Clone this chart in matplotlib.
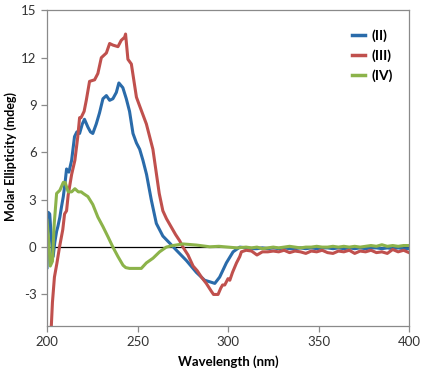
import matplotlib
matplotlib.use('Agg')
import matplotlib.pyplot as plt

plt.rcParams['font.family'] = ['Lato', 'DejaVu Sans']
plt.rcParams['axes.unicode_minus'] = False

# ---------------- data ----------------
# (II) blue
wl_II = [200, 200.7, 201.5, 202.5, 203.4, 204.3, 205.3, 206, 207.1, 208, 209, 209.9,
         210.8, 212.1, 213.6, 215.2, 216.5, 218, 219.5, 220.7, 222.6, 224, 225.3, 227.2,
         229, 230.9, 232.8, 234.6, 236.4, 238.3, 239.7, 241.9, 243.8, 245.6, 247.5,
         249.4, 251.2, 253, 255, 257.6, 260.4, 264, 267.8, 271.5, 277, 282.5, 287.1,
         290, 292.7, 295.4, 299.1, 302.8, 306.5]
cd_II = [-1.3, 2.2, 2.1, 0.4, -0.6, 0.3, 1.0, 1.3, 1.9, 2.55, 3.2, 4.0,
         4.95, 4.75, 5.5, 7.0, 7.3, 7.2, 7.8, 8.1, 7.6, 7.3, 7.2, 7.8,
         8.5, 9.4, 9.6, 9.3, 9.4, 9.8, 10.4, 10.1, 9.4, 8.6, 7.2,
         6.6, 6.2, 5.5, 4.6, 3.0, 1.5, 0.7, 0.25, -0.2, -0.85, -1.6, -2.1,
         -2.2, -2.3, -1.9, -1.0, -0.3, 0.0]

# (III) red
wl_III = [202.3, 203, 204.1, 205.5, 206.9, 208.7, 209.7, 210.8, 211.7, 213.6, 215.4,
          217, 218, 218.8, 220.5, 221.7, 223.5, 226.3, 228.1, 230, 232.8, 234.6, 236.4,
          239.2, 241, 242.9, 243.4, 244.7, 246.6, 249.4, 251, 254.9, 258.5, 260, 262,
          264, 266, 268, 271, 273.3, 275.1, 277.9, 280.7, 283, 285.3, 288, 290.8, 292,
          294.5, 296, 297, 298.2, 300, 301, 302.5, 304.7, 306.5, 307.4]
cd_III = [-5.2, -3.5, -1.9, -1.0, 0.0, 1.1, 2.1, 2.3, 3.3, 4.6, 5.5,
          7.0, 8.2, 8.2, 8.6, 9.3, 10.5, 10.6, 11.0, 12.0, 12.3, 12.9, 12.8,
          12.7, 13.1, 13.3, 13.5, 11.9, 11.6, 9.5, 9.0, 7.8, 6.2, 5.0, 3.4,
          2.3, 1.8, 1.4, 0.8, 0.4, 0.0, -0.5, -1.2, -1.5, -1.9, -2.3, -2.8, -3.0,
          -3.0, -2.6, -2.4, -2.4, -2.0, -2.1, -1.6, -1.0, -0.6, -0.3]

# (IV) green
wl_IV = [200, 201, 201.8, 203, 204, 205.3, 207.1, 209, 210, 211.7, 213.6, 215.4,
         217.3, 218.9, 220, 222.6, 225.3, 228.1, 230.9, 233.7, 236.4, 239.2, 242,
         243.5, 245.6, 249.4, 252.1, 254.9, 258.6, 262.2, 265.9, 269.6, 275.1, 282.5,
         289.9, 295, 300, 305]
cd_IV = [1.7, 0.3, -1.2, -0.9, 1.5, 3.4, 3.6, 4.1, 4.1, 3.5, 3.5, 3.7,
         3.5, 3.5, 3.4, 3.2, 2.7, 1.9, 1.3, 0.65, 0.0, -0.6, -1.15,
         -1.3, -1.35, -1.35, -1.35, -1.0, -0.7, -0.3, 0.0, 0.1, 0.2, 0.13,
         0.02, 0.05, 0.0, -0.05]

# flat noisy tail, shared wavelengths
tail_wl = [310, 313, 316, 319, 322, 325, 328, 331, 334, 337, 340, 343, 346, 349, 352,
           355, 358, 361, 364, 367, 370, 373, 376, 379, 382, 385, 388, 391, 394, 397, 400]
tail_II = [-0.05, -0.1, -0.1, -0.05, -0.1, -0.05, -0.1, -0.05, -0.1, -0.1, -0.05,
           -0.1, -0.05, -0.1, -0.05, -0.05, -0.1, -0.05, -0.1, -0.05, -0.1, -0.05,
           -0.1, -0.05, -0.05, -0.1, -0.05, -0.1, -0.05, -0.1, -0.1]
tail_III = [-0.2, -0.25, -0.5, -0.3, -0.3, -0.25, -0.3, -0.2, -0.35, -0.25, -0.3,
            -0.4, -0.25, -0.3, -0.2, -0.35, -0.4, -0.25, -0.3, -0.2, -0.4, -0.25,
            -0.3, -0.2, -0.35, -0.3, -0.4, -0.15, -0.3, -0.2, -0.35]
tail_IV = [0.0, -0.05, 0.0, -0.1, -0.05, 0.0, -0.05, 0.0, 0.05, 0.0, -0.05,
           0.0, 0.0, 0.05, 0.0, 0.0, 0.05, 0.0, 0.05, 0.0, 0.05, 0.0,
           0.05, 0.1, 0.05, 0.15, 0.05, 0.1, 0.05, 0.1, 0.1]

labels = ['(II)', '(III)', '(IV)']
colors = ['#2a6baa', '#c0504d', '#8cb34a']

series = [(wl_II + tail_wl, cd_II + tail_II),
          (wl_III + tail_wl, cd_III + tail_III),
          (wl_IV + tail_wl, cd_IV + tail_IV)]

# ---------------- figure ----------------
fig = plt.figure(figsize=(4.22, 3.74), dpi=100)
ax = fig.add_axes([0.1114, 0.1283, 0.8578, 0.8440])

ax.axhline(0, color='black', lw=0.9, zorder=1)
for (x, y), c, lab in zip(series, colors, labels):
    ax.plot(x, y, color=c, lw=2.2, label=lab, solid_joinstyle='round', zorder=2)

ax.set_xlim(200, 400)
ax.set_ylim(-5, 15)
ax.set_xticks([200, 250, 300, 350, 400])
ax.set_yticks([-3, 0, 3, 6, 9, 12, 15])

for sp in ax.spines.values():
    sp.set_color('#8a8a8a')
    sp.set_linewidth(0.9)
ax.tick_params(direction='out', length=4, width=0.9, color='#8a8a8a',
               labelsize=9.5, labelcolor='#333333')

ax.set_xlabel('Wavelength (nm)', fontsize=9.5, fontweight='bold', labelpad=5)
ax.set_ylabel('Molar Ellipticity (mdeg)', fontsize=9, fontweight='bold')
ax.yaxis.set_label_coords(-0.083, 0.538)

leg = ax.legend(loc='upper right', bbox_to_anchor=(0.99, 0.98), frameon=False,
                handlelength=0.9, handletextpad=0.5, labelspacing=0.55,
                prop={'weight': 'bold', 'size': 10})
for line in leg.get_lines():
    line.set_linewidth(2.5)

plt.savefig('out.png', dpi=100)
